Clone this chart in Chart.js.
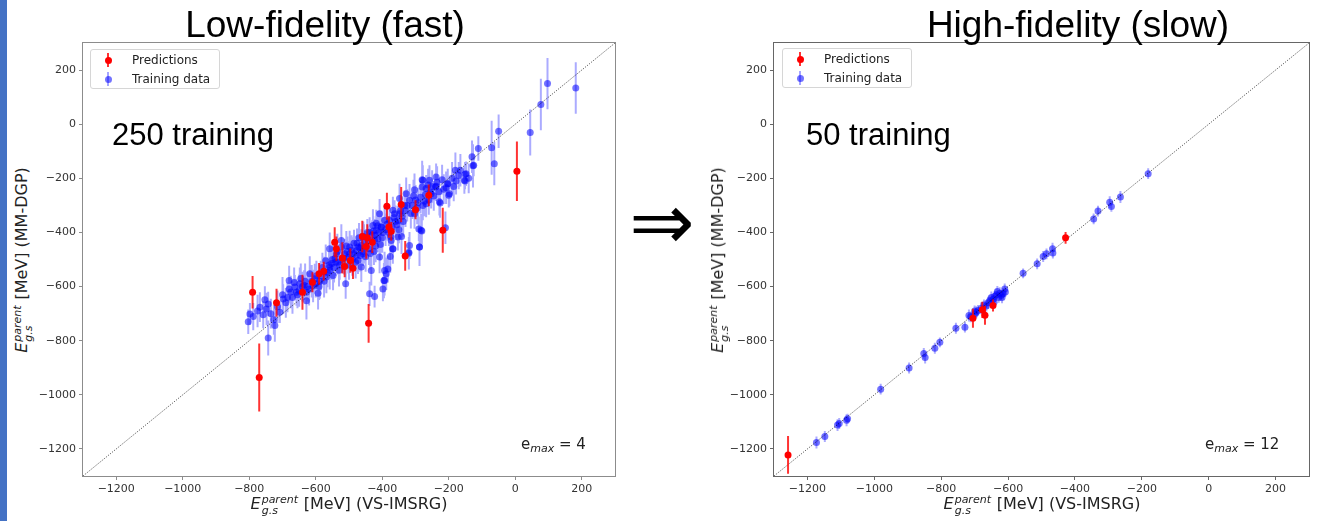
<!DOCTYPE html>
<html>
<head>
<meta charset="utf-8">
<script src="https://cdn.jsdelivr.net/npm/chart.js@4.4.0/dist/chart.umd.min.js"></script>
<style>
  body { margin: 0; width: 1319px; height: 521px; background: #fff; position: relative; overflow: hidden; font-family: "DejaVu Sans", sans-serif; }
  .abs { position: absolute; white-space: nowrap; line-height: 1; }
  .sidebar { position: absolute; left: 0; top: 0; width: 7px; height: 521px; background: #4472c4; }
  .box { position: absolute; }
  .title { font-family: "Liberation Sans", Arial, sans-serif; font-size: 37px; color: #000; transform: translateX(-50%); }
  .count { font-family: "Liberation Sans", Arial, sans-serif; font-size: 31px; color: #000; }
  .arrow { font-family: "DejaVu Sans", sans-serif; font-size: 78px; color: #000; transform: translate(-50%, -50%); }
  .axt { font-size: 16px; color: #222; }
  .axt .E { font-style: italic; }
  .ss { display: inline-block; position: relative; width: 38px; height: 0; }
  .ss span { position: absolute; left: 1px; font-size: 11px; font-style: italic; line-height: 1; }
  .ss .sup { bottom: 4px; }
  .ss .sub { top: -4px; }
  .xt { transform: translateX(-50%); }
  .yt { transform: translate(-50%, -50%) rotate(-90deg); }
  .emax { font-size: 15px; color: #222; }
  .emax i { font-size: 11px; position: relative; top: 3px; }
  .legend { position: absolute; width: 128px; height: 38px; border: 1px solid #d6d6d6; border-radius: 3px; background: #fff; font-size: 12px; color: #222; }
  .legend .lbl { position: absolute; left: 41px; line-height: 1; }
  .legend .bar { position: absolute; left: 16px; width: 2px; height: 14px; }
  .legend .dot { position: absolute; left: 13.5px; width: 7px; height: 7px; border-radius: 50%; }
</style>
</head>
<body>
<div class="sidebar"></div>

<div class="box" style="left:35px;top:33px;width:590px;height:470px;"><canvas id="lowChart" width="590" height="470"></canvas></div>
<div class="box" style="left:726px;top:33px;width:593px;height:470px;"><canvas id="highChart" width="593" height="470"></canvas></div>

<div class="abs title" style="left:325px;top:6px;">Low-fidelity (fast)</div>
<div class="abs title" style="left:1078px;top:6px;">High-fidelity (slow)</div>
<div class="abs arrow" style="left:662px;top:222px;">&#8658;</div>

<div class="abs count" style="left:112px;top:119px;">250 training</div>
<div class="abs count" style="left:806px;top:119px;">50 training</div>

<div class="abs emax" style="left:521px;top:437px;">e<i>max</i> = 4</div>
<div class="abs emax" style="left:1205px;top:437px;">e<i>max</i> = 12</div>

<div class="abs axt xt" style="left:349px;top:496px;"><span class="E">E</span><span class="ss"><span class="sup">parent</span><span class="sub">g.s</span></span> [MeV] (VS-IMSRG)</div>
<div class="abs axt xt" style="left:1042px;top:496px;"><span class="E">E</span><span class="ss"><span class="sup">parent</span><span class="sub">g.s</span></span> [MeV] (VS-IMSRG)</div>
<div class="abs axt yt" style="left:22px;top:260px;"><span class="E">E</span><span class="ss"><span class="sup">parent</span><span class="sub">g.s</span></span> [MeV] (MM-DGP)</div>
<div class="abs axt yt" style="left:718px;top:260px;"><span class="E">E</span><span class="ss"><span class="sup">parent</span><span class="sub">g.s</span></span> [MeV] (MM-DGP)</div>

<div class="legend" style="left:90px;top:49px;">
  <span class="bar" style="top:3px;background:rgba(255,0,0,0.8);"></span><span class="dot" style="top:6.5px;background:#f00;"></span>
  <span class="lbl" style="top:4px;">Predictions</span>
  <span class="bar" style="top:22px;background:rgba(0,0,255,0.35);"></span><span class="dot" style="top:25.5px;background:rgba(0,0,255,0.55);"></span>
  <span class="lbl" style="top:23px;">Training data</span>
</div>
<div class="legend" style="left:782px;top:48px;">
  <span class="bar" style="top:3px;background:rgba(255,0,0,0.8);"></span><span class="dot" style="top:6.5px;background:#f00;"></span>
  <span class="lbl" style="top:4px;">Predictions</span>
  <span class="bar" style="top:22px;background:rgba(0,0,255,0.35);"></span><span class="dot" style="top:25.5px;background:rgba(0,0,255,0.55);"></span>
  <span class="lbl" style="top:23px;">Training data</span>
</div>

<script>
// axis range shared by both panels (MeV)
const axisMin = -1300;
const axisMax = 300;
const tickValues = [-1200, -1000, -800, -600, -400, -200, 0, 200];

// low fidelity (e_max = 4): [VS-IMSRG, MM-DGP, error]
const lowTraining = [
  [97,150,95],[182,134,95],[77,73,95],[45,-31,85],[-50,-26,62],[-71,-87,100],[-63,-146,80],[-111,-90,45],
  [-127,-154,80],[-180,-170,65],[-178,-210,50],[-151,-185,45],[-151,-210,30],[-203,-220,55],[-200,-263,45],
  [-210,-383,60],[-226,-291,55],[-240,-232,50],[-255,-251,40],[-280,-205,70],[-280,-232,45],[-303,-242,60],
  [-281,-395,50],[-290,-387,45],[-278,-300,55],[-288,-454,70],[-320,-477,60],[-342,-415,65],[-368,-461,55],
  [-376,-489,60],[-373,-430,50],[-393,-541,70],[-395,-578,65],[-433,-541,55],[-408,-491,60],[-348,-275,55],
  [-328,-257,60],[-363,-331,50],[-353,-356,55],[-378,-356,45],[-403,-380,60],[-418,-366,50],[-438,-399,55],
  [-423,-430,45],[-463,-448,60],[-478,-467,55],[-498,-479,50],[-523,-430,60],[-538,-479,55],[-533,-510,45],
  [-558,-528,60],[-510,-590,55],[-473,-454,50],[-458,-479,45],[-258,-207,55],[-238,-195,50],
  [-803,-730,45],[-788,-711,50],[-798,-701,40],[-768,-676,55],[-753,-649,50],[-748,-683,60],[-743,-664,45],
  [-758,-704,50],[-726,-723,55],[-723,-744,60],[-743,-790,65],[-708,-695,40],[-698,-646,55],[-680,-609,50],
  [-680,-578,55],[-663,-602,45],[-648,-590,60],[-658,-621,50],[-628,-621,55],[-628,-652,70],[-593,-625,60],
  [-618,-553,65],[-603,-571,55],[-568,-565,60],[-558,-541,70],[-548,-559,55],[-558,-460,60],[-523,-454,65],
  [-513,-479,55],[-478,-485,60],[-468,-457,55],[-473,-504,50],[-463,-528,55],[-498,-454,60],[-418,-392,50],
  [-403,-380,55],[-428,-374,60],[-413,-423,50],[-393,-355,55],[-388,-553,60],[-393,-578,55],[-398,-609,45],
  [-383,-535,50],[-368,-460,55],[-353,-417,50],[-348,-331,45],[-333,-300,55],[-318,-281,60],[-318,-448,50],
  [-320,-473,55],[-288,-454,50],[-283,-392,60],[-278,-207,55],[-268,-238,50],[-238,-229,55],[-228,-287,50],
  [-203,-220,55],[-198,-257,45],[-153,-207,50],[-148,-183,45],[-125,-152,40],[-438,-627,45],[-423,-637,40],
  [-253,-257,55],[-268,-294,50],[-303,-331,55],[-368,-318,50],[-408,-331,55],
  [-640,-600,55],[-620,-610,60],[-600,-590,50],[-585,-560,55],[-575,-580,60],[-560,-520,50],[-545,-530,55],
  [-530,-540,60],[-520,-500,50],[-505,-470,55],[-490,-500,60],[-485,-440,50],[-470,-420,55],[-455,-430,60],
  [-445,-400,50],[-430,-410,55],[-420,-450,60],[-410,-400,50],[-400,-420,55],[-390,-390,60],[-380,-400,50],
  [-370,-380,55],[-360,-360,60],[-350,-390,50],[-340,-340,55],[-330,-320,60],[-310,-300,50],[-300,-280,55],
  [-295,-310,60],[-270,-260,50],[-260,-280,55],[-250,-230,60],[-230,-250,50],[-215,-240,55],[-190,-200,60],
  [-170,-190,50],[-690,-660,55],[-670,-640,60],[-655,-630,50],[-635,-595,55],[-612,-580,60],[-590,-600,50],
  [-575,-545,55],[-550,-500,60],[-540,-510,50],[-500,-520,55],[-480,-510,60],[-460,-470,50],[-450,-490,55],
  [-440,-460,60],[-425,-470,50],
  [-775,-690,60],[-735,-700,55],[-715,-675,60],[-700,-630,65],[-685,-640,55],[-675,-620,60],[-665,-585,55],
  [-650,-615,60],[-645,-570,55],[-632,-580,65],[-625,-600,55],[-608,-598,60],[-598,-560,55],[-588,-580,65],
  [-580,-530,55],[-570,-505,60],[-565,-548,55],[-552,-515,60],[-542,-495,55],[-535,-470,65],[-528,-520,55],
  [-515,-495,60],[-508,-450,55],[-502,-492,60],[-492,-465,55],[-486,-478,60],[-476,-440,55],[-466,-485,60],
  [-457,-415,55],[-452,-455,60],[-442,-430,55],[-436,-478,60],[-427,-395,55],[-421,-410,60],[-414,-375,55],
  [-406,-445,60],[-398,-400,55],[-386,-370,60],[-375,-415,55],[-365,-345,60],[-356,-372,55],[-345,-320,60],
  [-337,-360,55],[-325,-300,60],[-314,-330,55],[-306,-265,60],[-292,-290,55],[-285,-270,60],[-272,-285,55],
  [-262,-225,60],[-245,-265,55],[-235,-215,60],[-220,-205,55],[-208,-235,60],[-185,-230,55],[-165,-170,60],
  [-140,-200,55],[-130,-120,60]
];
const lowPredictions = [
  [-790,-621,60],[-770,-936,126],[-718,-660,52],[-640,-621,65],[-610,-584,37],[-590,-553,40],[-576,-543,35],
  [-543,-436,55],[-538,-460,45],[-520,-494,58],[-513,-526,40],[-496,-504,45],[-488,-532,40],[-460,-415,58],
  [-448,-452,45],[-445,-420,50],[-430,-436,40],[-441,-736,72],[-386,-303,50],[-380,-380,40],[-373,-396,35],
  [-343,-297,65],[-331,-487,55],[-300,-316,35],[-260,-263,40],[-218,-392,83],[5,-174,110]
];

// high fidelity (e_max = 12)
const highTraining = [
  [-1173,-1176,22],[-1148,-1154,20],[-1110,-1112,22],[-1105,-1106,20],[-1083,-1094,22],[-1080,-1088,18],
  [-981,-979,20],[-896,-901,20],[-852,-847,20],[-848,-862,22],[-819,-828,20],[-804,-806,18],[-756,-754,20],
  [-729,-750,20],[-717,-707,22],[-712,-712,20],[-695,-695,22],[-700,-702,18],[-690,-688,20],[-680,-680,22],
  [-672,-668,20],[-660,-660,22],[-655,-652,20],[-650,-640,22],[-645,-648,18],[-640,-636,20],[-635,-630,22],
  [-628,-640,20],[-625,-625,22],[-620,-632,20],[-615,-627,22],[-610,-609,20],[-608,-620,18],[-555,-551,18],
  [-513,-516,20],[-495,-489,20],[-485,-479,20],[-467,-460,22],[-466,-476,20],[-344,-350,20],[-331,-321,20],
  [-296,-288,22],[-291,-304,20],[-264,-269,22],[-181,-183,20],[-665,-672,20],[-642,-658,22],[-632,-618,20],
  [-618,-640,22],[-700,-690,20]
];
const highPredictions = [
  [-1258,-1222,70],[-705,-717,35],[-677,-686,30],[-669,-706,35],[-645,-670,22],[-428,-420,22]
];

// vertical error bar segments, separated by gaps
function errorSegments(rows) {
  const pts = [];
  rows.forEach(([x, y, e]) => {
    pts.push({x: x, y: y - e}, {x: x, y: y + e}, {x: x, y: null});
  });
  return pts;
}

function markers(rows) {
  return rows.map(([x, y]) => ({x: x, y: y}));
}

const framePlugin = {
  id: 'frame',
  afterDraw(chart, args, opts) {
    const { ctx, chartArea: a } = chart;
    ctx.save();
    ctx.strokeStyle = opts.color;
    ctx.lineWidth = 1;
    ctx.strokeRect(a.left - 0.5, a.top - 0.5, a.right - a.left + 1, a.bottom - a.top + 1);
    ctx.restore();
  }
};

function axisOptions(isX, tickColor) {
  return {
    type: 'linear',
    min: axisMin,
    max: axisMax,
    border: { display: false },
    grid: { drawOnChartArea: false, drawTicks: true, tickLength: 4, color: tickColor },
    afterBuildTicks: s => { s.ticks = tickValues.map(v => ({ value: v })); },
    ticks: {
      autoSkip: false,
      maxRotation: 0,
      padding: 3,
      color: '#333',
      font: { family: "'DejaVu Sans', sans-serif", size: 11 },
      callback: v => v < 0 ? '\u2212' + Math.abs(v) : String(v)
    },
    afterFit: s => { if (isX) s.height = 27; else s.width = 48; }
  };
}

function makeChart(id, training, predictions, frameColor) {
  const ctx = document.getElementById(id).getContext('2d');
  return new Chart(ctx, {
    type: 'scatter',
    data: {
      datasets: [
        {
          type: 'scatter',
          data: markers(predictions),
          pointRadius: 3.5,
          pointBackgroundColor: '#ff0000',
          pointBorderWidth: 0,
          order: 1
        },
        {
          type: 'line',
          data: errorSegments(predictions),
          borderColor: 'rgba(255,0,0,0.8)',
          borderWidth: 2,
          pointRadius: 0,
          spanGaps: false,
          order: 2
        },
        {
          type: 'line',
          data: [{x: axisMin, y: axisMin}, {x: axisMax, y: axisMax}],
          borderColor: 'rgba(0,0,0,0.75)',
          borderWidth: 1,
          borderDash: [1, 1.5],
          pointRadius: 0,
          order: 3
        },
        {
          type: 'scatter',
          data: markers(training),
          pointRadius: 3.5,
          pointBackgroundColor: 'rgba(0,0,255,0.55)',
          pointBorderWidth: 0,
          order: 4
        },
        {
          type: 'line',
          data: errorSegments(training),
          borderColor: 'rgba(0,0,255,0.33)',
          borderWidth: 2,
          pointRadius: 0,
          spanGaps: false,
          order: 5
        }
      ]
    },
    options: {
      responsive: false,
      animation: false,
      events: [],
      layout: { padding: { top: 10, right: 10, left: 0, bottom: 0 } },
      plugins: {
        legend: { display: false },
        tooltip: { enabled: false },
        frame: { color: frameColor }
      },
      scales: {
        x: axisOptions(true, frameColor),
        y: axisOptions(false, frameColor)
      }
    },
    plugins: [framePlugin]
  });
}

makeChart('lowChart', lowTraining, lowPredictions, '#8c8c8c');
makeChart('highChart', highTraining, highPredictions, '#666666');
</script>
</body>
</html>
